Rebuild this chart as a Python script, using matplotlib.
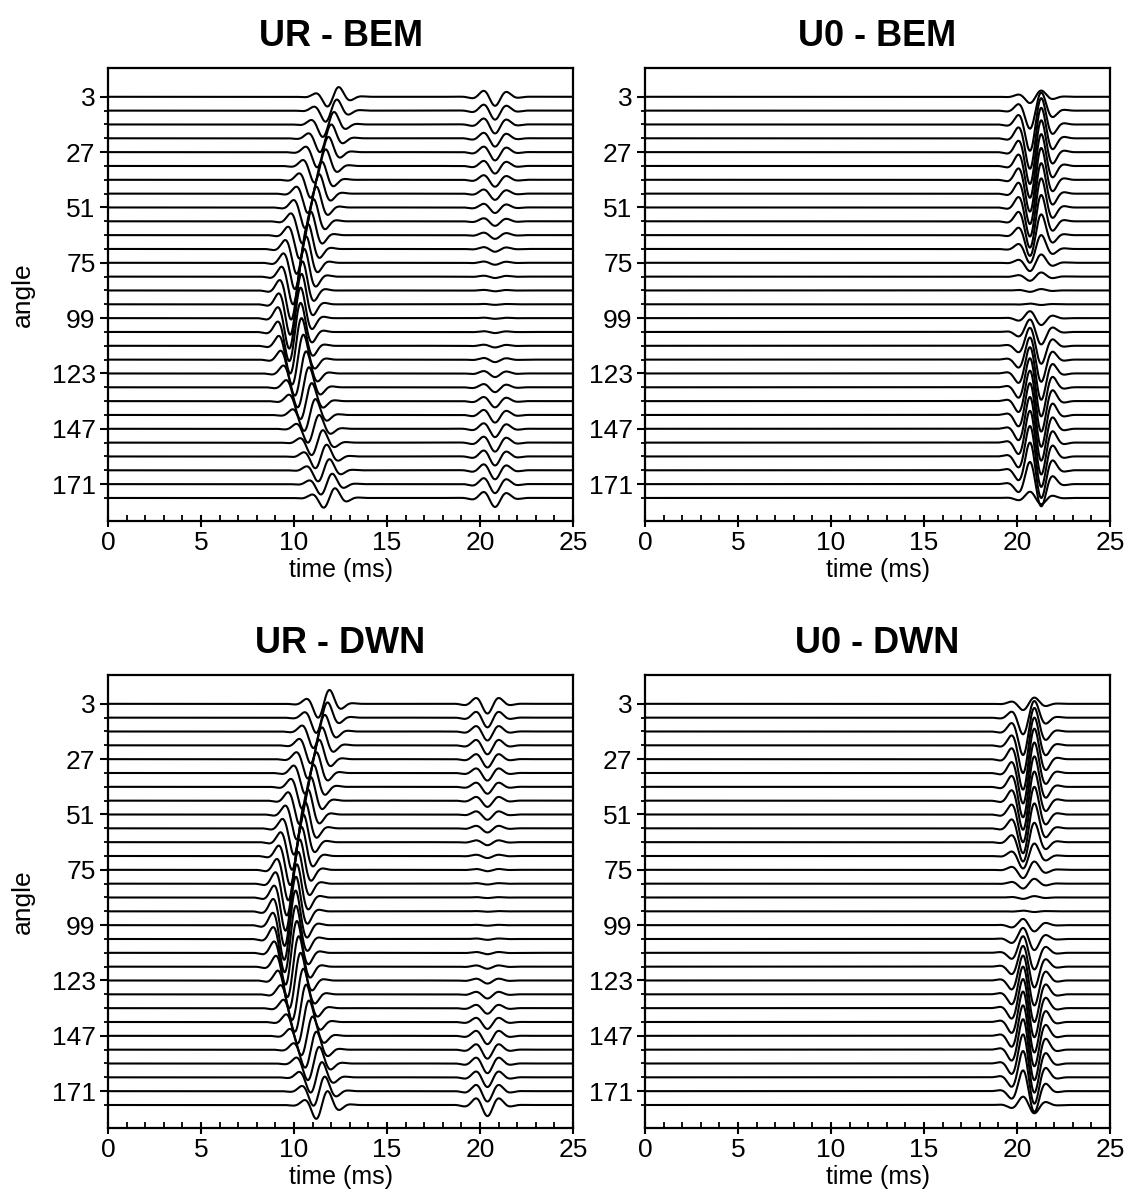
import numpy as np
import matplotlib
matplotlib.use("Agg")
import matplotlib.pyplot as plt
from matplotlib.ticker import MultipleLocator

plt.rcParams['font.family'] = ['Liberation Sans', 'DejaVu Sans']

# receiver angles (deg), one trace each
angles = [3, 9, 15, 21, 27, 33, 39, 45, 51, 57, 63, 69, 75, 81, 87,
          93, 99, 105, 111, 117, 123, 129, 135, 141, 147, 153, 159, 165, 171, 177]
angle_ticks = [3, 27, 51, 75, 99, 123, 147, 171]
time_ticks = [0, 5, 10, 15, 20, 25]

# UR - BEM: direct arrival (centre time ms, amplitude in trace spacings) + late arrival
ur_bem_t1 = [12.10, 12.00, 11.85, 11.70, 11.55, 11.40, 11.20, 11.05, 10.90, 10.75, 10.60, 10.45, 10.35, 10.25, 10.15,
             10.10, 10.05, 10.05, 10.10, 10.20, 10.35, 10.50, 10.65, 10.85, 11.05, 11.25, 11.45, 11.60, 11.75, 11.90]
ur_bem_a1 = [0.70, 0.80, 0.90, 1.00, 1.10, 1.20, 1.30, 1.40, 1.50, 1.60, 1.70, 1.80, 1.90, 2.00, 2.10,
             2.20, 2.20, 2.10, 2.00, 1.80, 1.60, 1.45, 1.30, 1.15, 1.00, 0.90, 0.85, 0.80, 0.75, 0.70]
ur_bem_t2 = [20.75, 20.75, 20.75, 20.75, 20.75, 20.75, 20.75, 20.75, 20.75, 20.75, 20.75, 20.75, 20.75, 20.75, 20.75,
             20.75, 20.75, 20.75, 20.75, 20.75, 20.75, 20.75, 20.75, 20.75, 20.75, 20.75, 20.75, 20.75, 20.75, 20.75]
ur_bem_a2 = [0.65, 0.65, 0.65, 0.60, 0.60, 0.55, 0.50, 0.45, 0.40, 0.33, 0.27, 0.20, 0.14, 0.10, 0.06,
             0.04, 0.05, 0.08, 0.12, 0.18, 0.26, 0.35, 0.45, 0.55, 0.60, 0.65, 0.65, 0.65, 0.65, 0.65]

# U0 - BEM: single arrival, polarity flips near 90 deg
u0_bem_t = [21.00, 21.00, 21.00, 21.00, 21.00, 21.00, 21.00, 21.00, 21.00, 21.00, 21.00, 21.00, 21.00, 21.00, 21.00,
            21.00, 21.00, 21.00, 21.00, 21.00, 21.00, 21.00, 21.00, 21.00, 21.00, 21.00, 21.00, 21.00, 21.00, 21.00]
u0_bem_a = [0.45, 1.30, 1.90, 2.20, 2.30, 2.30, 2.30, 2.20, 2.10, 1.90, 1.50, 1.00, 0.60, 0.30, 0.10,
            -0.05, -0.50, -0.90, -1.30, -1.60, -1.90, -2.10, -2.20, -2.30, -2.30, -2.30, -2.20, -2.00, -1.60, -0.45]

# UR - DWN
ur_dwn_t1 = [11.60, 11.50, 11.35, 11.20, 11.05, 10.90, 10.75, 10.60, 10.45, 10.30, 10.20, 10.10, 10.00, 9.92, 9.85,
             9.80, 9.78, 9.80, 9.85, 9.95, 10.05, 10.20, 10.35, 10.50, 10.70, 10.90, 11.05, 11.20, 11.35, 11.50]
ur_dwn_a1 = [1.00, 1.10, 1.20, 1.30, 1.40, 1.50, 1.60, 1.70, 1.80, 1.90, 2.00, 2.10, 2.20, 2.30, 2.40,
             2.50, 2.50, 2.40, 2.30, 2.20, 2.00, 1.85, 1.70, 1.55, 1.40, 1.30, 1.20, 1.10, 1.05, 1.00]
ur_dwn_t2 = [20.40, 20.40, 20.40, 20.40, 20.40, 20.40, 20.40, 20.40, 20.40, 20.40, 20.40, 20.40, 20.40, 20.40, 20.40,
             20.40, 20.40, 20.40, 20.40, 20.40, 20.40, 20.40, 20.40, 20.40, 20.40, 20.40, 20.40, 20.40, 20.40, 20.40]
ur_dwn_a2 = [0.70, 0.70, 0.65, 0.65, 0.60, 0.55, 0.50, 0.45, 0.38, 0.30, 0.22, 0.15, 0.10, 0.06, 0.04,
             0.03, 0.04, 0.06, 0.10, 0.15, 0.22, 0.30, 0.40, 0.50, 0.60, 0.65, 0.70, 0.70, 0.75, 0.80]

# U0 - DWN
u0_dwn_t = [20.63, 20.63, 20.63, 20.63, 20.63, 20.63, 20.63, 20.63, 20.63, 20.63, 20.63, 20.63, 20.63, 20.63, 20.63,
            20.63, 20.63, 20.63, 20.63, 20.63, 20.63, 20.63, 20.63, 20.63, 20.63, 20.63, 20.63, 20.63, 20.63, 20.63]
u0_dwn_a = [0.45, 1.20, 1.70, 2.00, 2.20, 2.20, 2.20, 2.10, 2.00, 1.80, 1.40, 0.90, 0.60, 0.35, 0.10,
            -0.05, -0.45, -0.80, -1.20, -1.50, -1.80, -2.00, -2.10, -2.20, -2.20, -2.20, -2.10, -1.90, -1.50, -0.60]

SIGMA = 0.9      # envelope width (ms)
HALF = 0.68      # half period of the carrier (ms)
SINE = -np.pi / 2
NEG_COS = np.pi - 0.3

t = np.linspace(0, 25, 2501)


def wavelet(centre, amp, phase):
    """Gabor pulse, scaled so its largest lobe equals amp."""
    tau = t - centre
    w = np.exp(-(tau / SIGMA) ** 2) * np.cos(np.pi * tau / HALF + phase)
    return amp * w / np.abs(w).max()


def draw_panel(ax, title, arrivals, ylabel=True):
    spacing = angles[1] - angles[0]
    for i, ang in enumerate(angles):
        trace = np.zeros_like(t)
        for times, amps, phase in arrivals:
            trace += wavelet(times[i], amps[i], phase)
        ax.plot(t, ang - spacing * trace, color='black', lw=1.5)

    ax.set_xlim(0, 25)
    ax.set_ylim(187, -9.5)
    ax.set_xticks(time_ticks)
    ax.xaxis.set_minor_locator(MultipleLocator(1))
    ax.set_yticks(angle_ticks)
    ax.set_yticks(angles, minor=True)
    ax.tick_params(axis='x', which='major', direction='inout', length=9, width=1.5, labelsize=19, pad=3)
    ax.tick_params(axis='x', which='minor', direction='in', length=4, width=1.3)
    ax.tick_params(axis='y', which='major', direction='out', length=6, width=1.5, labelsize=19, pad=3)
    ax.tick_params(axis='y', which='minor', direction='out', length=3, width=1.3)
    for s in ax.spines.values():
        s.set_linewidth(1.6)
    ax.set_xlabel('time (ms)', fontsize=18, labelpad=2)
    if ylabel:
        ax.set_ylabel('angle', fontsize=19, labelpad=12)
    ax.set_title(title, fontsize=26, fontweight='bold', pad=16)


fig = plt.figure(figsize=(11.36, 12.03), dpi=100)
w, h = 0.4093, 0.3766
ax1 = fig.add_axes([0.0951, 0.5669, w, h])
ax2 = fig.add_axes([0.5678, 0.5669, w, h])
ax3 = fig.add_axes([0.0951, 0.0623, w, h])
ax4 = fig.add_axes([0.5678, 0.0623, w, h])

draw_panel(ax1, 'UR - BEM', [(ur_bem_t1, ur_bem_a1, SINE), (ur_bem_t2, ur_bem_a2, NEG_COS)])
draw_panel(ax2, 'U0 - BEM', [(u0_bem_t, u0_bem_a, SINE)], ylabel=False)
draw_panel(ax3, 'UR - DWN', [(ur_dwn_t1, ur_dwn_a1, SINE), (ur_dwn_t2, ur_dwn_a2, np.pi)])
draw_panel(ax4, 'U0 - DWN', [(u0_dwn_t, u0_dwn_a, SINE)], ylabel=False)

fig.savefig('out.png', dpi=100)
